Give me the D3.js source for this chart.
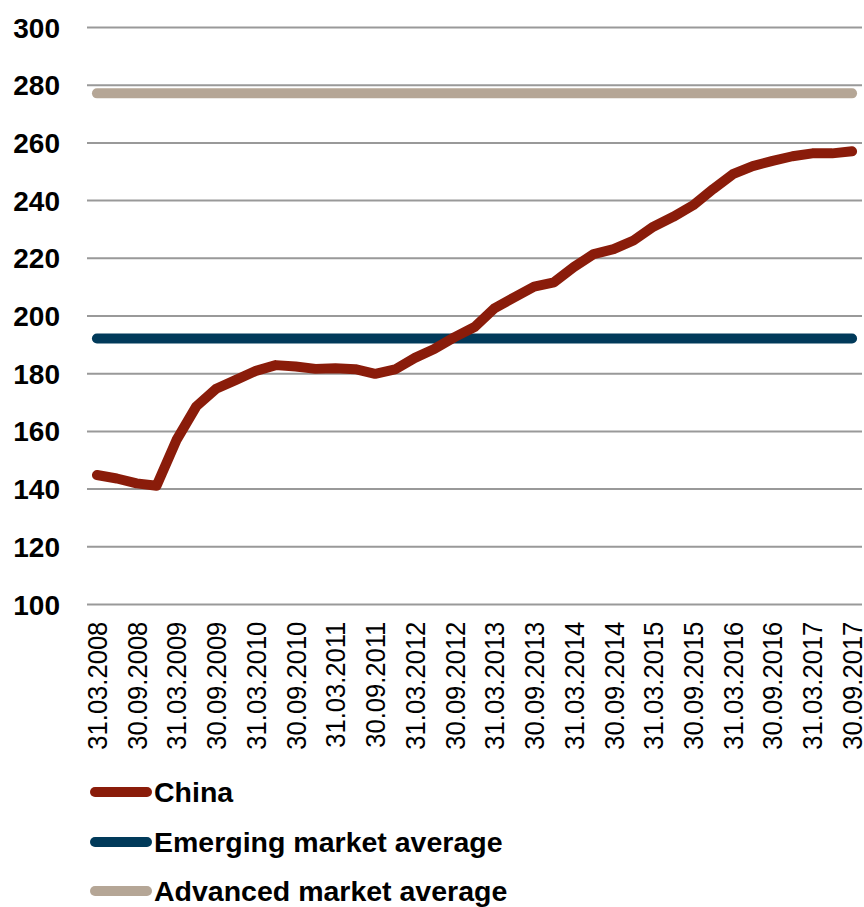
<!DOCTYPE html>
<html>
<head>
<meta charset="utf-8">
<script src="https://cdn.jsdelivr.net/npm/d3@7"></script>
<style>
  html, body { margin: 0; padding: 0; background: #fff; }
  svg { display: block; font-family: "Liberation Sans", Arial, sans-serif; }
</style>
</head>
<body>
<svg id="chart" width="864" height="907"></svg>
<script>
const quarters = [
  "31.03.2008","30.06.2008","30.09.2008","31.12.2008",
  "31.03.2009","30.06.2009","30.09.2009","31.12.2009",
  "31.03.2010","30.06.2010","30.09.2010","31.12.2010",
  "31.03.2011","30.06.2011","30.09.2011","31.12.2011",
  "31.03.2012","30.06.2012","30.09.2012","31.12.2012",
  "31.03.2013","30.06.2013","30.09.2013","31.12.2013",
  "31.03.2014","30.06.2014","30.09.2014","31.12.2014",
  "31.03.2015","30.06.2015","30.09.2015","31.12.2015",
  "31.03.2016","30.06.2016","30.09.2016","31.12.2016",
  "31.03.2017","30.06.2017","30.09.2017"
];
const chinaValues = [
  144.7, 143.5, 141.8, 141.0, 156.8, 168.5, 174.6, 177.7,
  180.8, 182.8, 182.3, 181.5, 181.7, 181.4, 179.8, 181.3,
  185.3, 188.5, 192.5, 196.0, 202.5, 206.3, 210.0, 211.5,
  216.8, 221.3, 223.0, 226.0, 230.8, 234.2, 238.2, 243.8,
  249.0, 251.8, 253.6, 255.2, 256.2, 256.2, 256.9
];
const emergingAverage = 192;
const advancedAverage = 277;
const yTicks = [100, 120, 140, 160, 180, 200, 220, 240, 260, 280, 300];
const xTickLabels = quarters.filter((d, i) => i % 2 === 0);
const seriesNames = ["China", "Emerging market average", "Advanced market average"];
const seriesColors = ["#8a1c0a", "#013a5a", "#b5a696"];

const svg = d3.select("#chart");
const plot = { left: 87, right: 862, top: 27, bottom: 604 };

const x = d3.scaleBand().domain(quarters).range([plot.left, plot.right]).paddingInner(0).paddingOuter(0);
const xc = d => x(d) + x.bandwidth() / 2;
const y = d3.scaleLinear().domain([100, 300]).range([plot.bottom, plot.top]);

// gridlines + y labels
const yAxis = d3.axisLeft(y).tickValues(yTicks).tickSize(-(plot.right - plot.left)).tickFormat(d3.format("d"));
const gy = svg.append("g").attr("transform", `translate(${plot.left},0)`).call(yAxis);
gy.select(".domain").remove();
gy.selectAll(".tick line").attr("stroke", "#999").attr("stroke-width", 2);
gy.selectAll(".tick text")
  .attr("x", -27)
  .attr("dy", "0.36em")
  .attr("fill", "#000")
  .style("font-size", "28px")
  .style("font-weight", "bold")
  .style("font-family", "'Liberation Sans', Arial, sans-serif");

// x axis labels
const xAxis = d3.axisBottom(x).tickValues(xTickLabels).tickSize(0);
const gx = svg.append("g").attr("transform", `translate(0,${plot.bottom})`).call(xAxis);
gx.select(".domain").remove();
gx.selectAll(".tick text")
  .attr("transform", "rotate(-90) scale(0.93,1)")
  .attr("x", -19)
  .attr("y", 0)
  .attr("dy", "0.36em")
  .attr("text-anchor", "end")
  .attr("fill", "#000")
  .style("font-size", "27.5px")
  .style("font-family", "'Liberation Sans', Arial, sans-serif");

// horizontal average lines
const first = quarters[0], last = quarters[quarters.length - 1];
[[advancedAverage, seriesColors[2]], [emergingAverage, seriesColors[1]]].forEach(([v, c]) => {
  svg.append("path")
    .datum([first, last])
    .attr("d", d3.line().x(d => xc(d)).y(() => y(v)))
    .attr("fill", "none")
    .attr("stroke", c)
    .attr("stroke-width", 10)
    .attr("stroke-linecap", "round");
});

// China line
svg.append("path")
  .datum(chinaValues)
  .attr("d", d3.line().x((d, i) => xc(quarters[i])).y(d => y(d)))
  .attr("fill", "none")
  .attr("stroke", seriesColors[0])
  .attr("stroke-width", 10)
  .attr("stroke-linejoin", "round")
  .attr("stroke-linecap", "round");

// legend
const legendY = [792, 842, 891];
const lg = svg.append("g");
seriesNames.forEach((name, i) => {
  lg.append("line")
    .attr("x1", 95).attr("x2", 147)
    .attr("y1", legendY[i]).attr("y2", legendY[i])
    .attr("stroke", seriesColors[i])
    .attr("stroke-width", 10)
    .attr("stroke-linecap", "round");
  lg.append("text")
    .attr("x", 154)
    .attr("y", legendY[i] + 9.5)
    .attr("fill", "#000")
    .style("font-size", "28.5px")
    .style("font-weight", "bold")
    .text(name);
});
</script>
</body>
</html>
